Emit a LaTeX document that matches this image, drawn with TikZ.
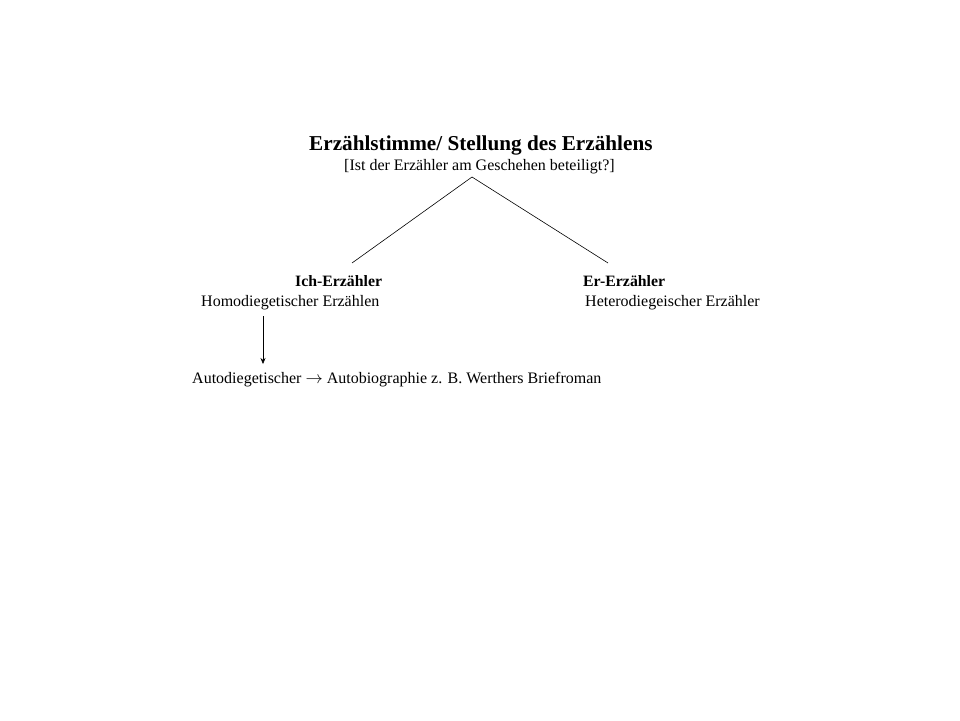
\documentclass[tikz,border=0pt]{standalone}
\usepackage{fontspec}
\setmainfont{Liberation Serif}
\usetikzlibrary{arrows.meta}
\begin{document}
\begin{tikzpicture}[x=1pt,y=-1pt,
  lbl/.style={inner sep=0pt,anchor=base west,font=\fontsize{16}{18}\selectfont},
  blbl/.style={inner sep=0pt,anchor=base west,font=\fontsize{15.8}{18}\selectfont\bfseries},
  ttl/.style={inner sep=0pt,anchor=base west,font=\fontsize{21.2}{23}\selectfont\bfseries},
  conn/.style={draw=black,line width=0.6pt}]
\useasboundingbox (0,0) rectangle (960,720);
\fill[white] (0,0) rectangle (960,720);
\node[ttl] (title) at (309,150) {Erzählstimme/ Stellung des Erzählens};
\node[lbl] (sub) at (344,170) {[Ist der Erzähler am Geschehen beteiligt?]};
\coordinate (top) at (472,177);
\coordinate (lend) at (352,263);
\coordinate (rend) at (608,263);
\draw[conn] (top) -- (lend);
\draw[conn] (top) -- (rend);
\node[blbl] (ich) at (295,286) {Ich-Erzähler};
\node[lbl] (homo) at (201,306) {Homodiegetischer Erzählen};
\node[blbl] (er) at (583,286) {Er-Erzähler};
\node[lbl] (hetero) at (585,306) {Heterodiegeischer Erzähler};
\node[lbl] (auto) at (192,383) {Autodiegetischer $\rightarrow$ Autobiographie z. B. Werthers Briefroman};
\coordinate (astart) at (263,316);
\coordinate (aend) at (263,364);
\draw[conn,-{Stealth[length=6pt,width=5pt]}] (astart) -- (aend);
\end{tikzpicture}
\end{document}
